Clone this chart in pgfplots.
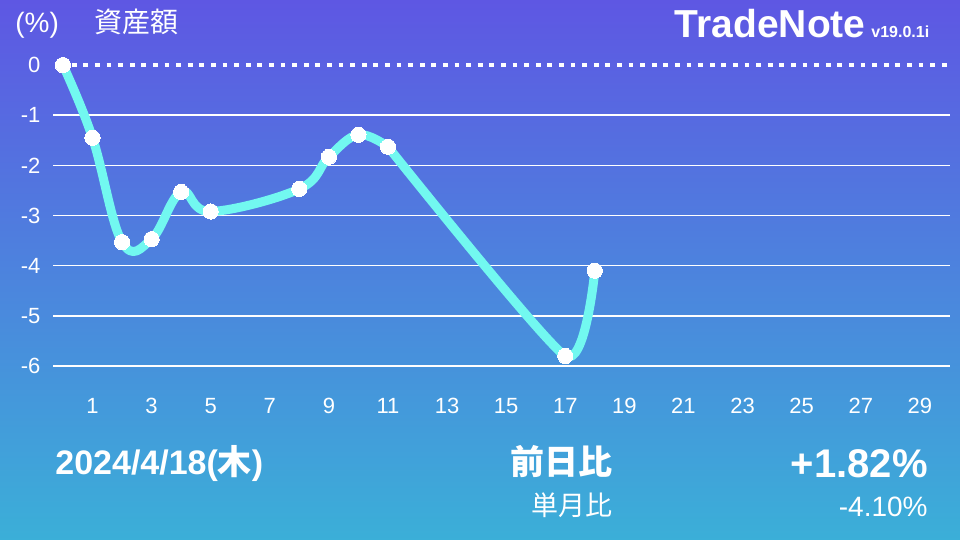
\documentclass[border=0pt]{standalone}
\usepackage{pgfplots}
\pgfplotsset{compat=1.18}
\usepackage{fontspec}
\setmainfont{Liberation Sans}
\newfontfamily\jp{Noto Sans CJK JP}
\definecolor{bgtop}{HTML}{5E57E3}
\definecolor{bgbot}{HTML}{3BAFD8}
\definecolor{curve}{HTML}{72F8F0}
\pgfplotstableread{
x y
0 0
1 -1.45
2 -3.53
3 -3.47
4 -2.53
5 -2.92
8 -2.47
9 -1.83
10 -1.39
11 -1.63
17 -5.80
18 -4.10
}\data
\pgfplotstableread{
x y
0 0
1 -1.45
2 -3.53
3 -3.47
4 -2.53
5 -2.92
8 -2.47
9 -1.83
10 -1.39
11 -1.63
}\dataA
\pgfplotstableread{
x y
11 -1.63
17 -5.80
18 -4.10
}\dataB
\begin{document}
\begin{tikzpicture}
\begin{scope}[x=0.5pt,y=-0.5pt]
\path[use as bounding box] (0,0) rectangle (960,540);
\shade[top color=bgtop, bottom color=bgbot] (0,0) rectangle (960,540);
\node[anchor=base west, text=white, inner sep=0, font=\fontsize{14}{16}\selectfont] at (15,33) {(\%)};
\node[anchor=base west, text=white, inner sep=0, font=\fontsize{14}{16}\selectfont\jp] at (94,33) {資産額};
\node[anchor=base east, text=white, inner sep=0, font=\fontsize{19.5}{22}\selectfont\bfseries] at (866,38) {TradeNote};
\node[anchor=base west, text=white, inner sep=0, font=\fontsize{8}{9}\selectfont\bfseries] at (871,38) {v19.0.1i};
\node[anchor=base west, text=white, inner sep=0, font=\fontsize{17}{19}\selectfont\bfseries] at (55,474) {2024/4/18({\jp 木})};
\node[anchor=base east, text=white, inner sep=0, font=\fontsize{17}{19}\selectfont\jp\bfseries] at (613,474) {前日比};
\node[anchor=base east, text=white, inner sep=0, font=\fontsize{20}{22}\selectfont\bfseries] at (928,477) {+1.82\%};
\node[anchor=base east, text=white, inner sep=0, font=\fontsize{13.5}{15}\selectfont\jp] at (613,515) {単月比};
\node[anchor=base east, text=white, inner sep=0, font=\fontsize{14}{16}\selectfont] at (928,516) {-4.10\%};
\end{scope}
\begin{axis}[
  at={(26.75pt,-183pt)}, anchor=south west,
  scale only axis, width=448.25pt, height=150.5pt,
  xmin=-0.32, xmax=30.02, ymin=-6, ymax=0,
  clip=false,
  axis line style={draw=none}, tick style={draw=none},
  xtick={1,3,...,29}, ytick={-6,-5,...,-1},
  extra y ticks={0}, extra y tick style={grid=none},
  ymajorgrids, grid style={white, line width=0.7pt},
  ticklabel style={text=white, font=\fontsize{11}{13}\selectfont},
  xticklabel style={yshift=-12.4pt},
  yticklabel style={xshift=-3pt},
  /pgf/number format/assume math mode=true,
]
\addplot[white, line width=2.4pt, dash pattern=on 2.4pt off 3.4pt] coordinates {(0.3,0) (30.02,0)};
\addplot[curve, line width=4.5pt, smooth, tension=0.65, no markers, line join=round, line cap=round] table {\dataA};
\addplot[curve, line width=4.5pt, smooth, tension=0.35, no markers, line join=round, line cap=round] table {\dataB};
\addplot[only marks, mark=*, mark size=3.8pt, white, mark options={fill=white, draw=white, line width=0pt}] table {\data};
\end{axis}
\end{tikzpicture}
\end{document}
